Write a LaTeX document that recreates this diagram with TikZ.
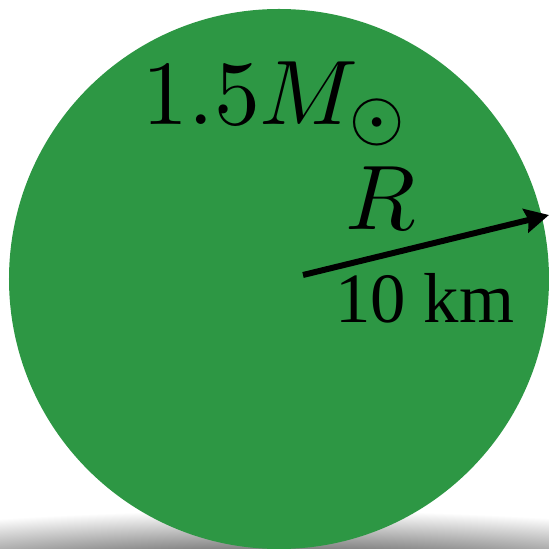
\documentclass[tikz,border=0pt]{standalone}
\usepackage{amsmath,amssymb}
\usepackage{fontspec}
\newfontfamily\kmfont{Liberation Serif}
\usetikzlibrary{arrows.meta}
\definecolor{stargreen}{RGB}{45,151,68}
\begin{document}
\begin{tikzpicture}[x=1bp,y=-1bp,
    biglabel/.style={inner sep=0pt,text=black}]
    \useasboundingbox (0,0) rectangle (549,549);
    % shadow under the star
    \begin{scope}
      \clip (0,0) rectangle (549,549);
      \shade[inner color=black!95,outer color=white] (279,585) ellipse (600 and 75);
    \end{scope}
    \node[circle,fill=stargreen,minimum size=540bp,inner sep=0pt] (star) at (279,279) {};
    \coordinate (base) at (303,275);
    \coordinate (rim) at (549,215);
    \draw[line width=6bp,-{Stealth[length=24bp,width=24bp,inset=3bp]}] (base) -- (rim);
    \node[biglabel,anchor=base west,scale=9.2] (mass) at (141,125) {$1.5M_\odot$};
    \node[biglabel,anchor=base,scale=9.2] (rlabel) at (381,229) {$R$};
    \node[biglabel,anchor=base west,scale=7.1,font=\kmfont] (size) at (334,322) {10 km};
  \end{tikzpicture}
\end{document}
